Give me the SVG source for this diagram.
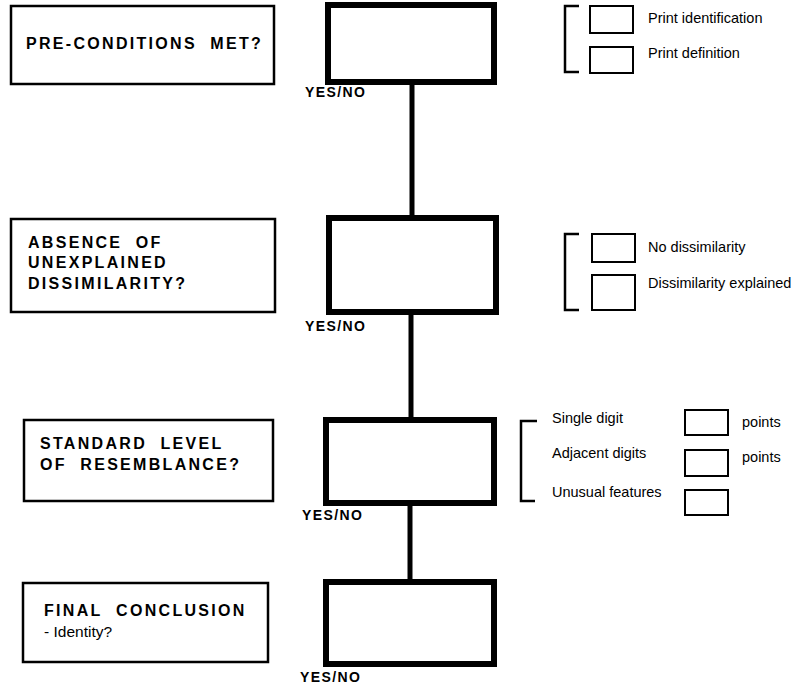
<svg xmlns="http://www.w3.org/2000/svg" width="798" height="685" viewBox="0 0 798 685">
<style>
.q{fill:#fff;stroke:#000;stroke-width:2.5}
.m{fill:#fff;stroke:#000;stroke-width:6}
.s{fill:#fff;stroke:#000;stroke-width:2}
.br{fill:none;stroke:#000;stroke-width:2.5}
.c{stroke:#000;stroke-width:5;fill:none}
.h{font-family:"Liberation Sans",Arial,sans-serif;font-weight:bold;font-size:16px;letter-spacing:2.3px;fill:#000}
.yn{font-family:"Liberation Sans",Arial,sans-serif;font-weight:bold;font-size:14px;letter-spacing:1.4px;fill:#000}
.t{font-family:"Liberation Sans",Arial,sans-serif;font-size:14.5px;fill:#000}
.r{font-family:"Liberation Sans",Arial,sans-serif;font-size:15.5px;fill:#000}
</style>
<rect width="798" height="685" fill="#fff"/>
<g id="connectors">
<line class="c" x1="412" y1="85" x2="412" y2="216"/>
<line class="c" x1="411" y1="315" x2="411" y2="418"/>
<line class="c" x1="410" y1="506" x2="410" y2="580"/>
</g>
<g id="q1">
<rect class="q" x="11" y="6" width="263" height="78"/>
<text class="h" x="26" y="49">PRE-CONDITIONS&#160; MET?</text>
</g>
<g id="a1">
<rect class="m" x="328" y="5" width="166" height="77"/>
<text class="yn" x="305" y="97">YES/NO</text>
</g>
<g id="o1">
<path class="br" d="M579,6 H565 V72 H579"/>
<rect class="s" x="590" y="6" width="43" height="27"/>
<rect class="s" x="590" y="47" width="43" height="26"/>
<text class="t" x="648" y="23">Print identification</text>
<text class="t" x="648" y="58">Print definition</text>
</g>
<g id="q2">
<rect class="q" x="11" y="219" width="264" height="93"/>
<text class="h" x="28" y="248">ABSENCE&#160; OF</text>
<text class="h" x="28" y="268">UNEXPLAINED</text>
<text class="h" x="28" y="289">DISSIMILARITY?</text>
</g>
<g id="a2">
<rect class="m" x="329" y="218" width="167" height="94"/>
<text class="yn" x="305" y="331">YES/NO</text>
</g>
<g id="o2">
<path class="br" d="M579,234 H565 V310 H579"/>
<rect class="s" x="592" y="234" width="43" height="28"/>
<rect class="s" x="592" y="275" width="43" height="35"/>
<text class="t" x="648" y="252">No dissimilarity</text>
<text class="t" x="648" y="288">Dissimilarity explained</text>
</g>
<g id="q3">
<rect class="q" x="24" y="420" width="249" height="81"/>
<text class="h" x="40" y="449">STANDARD&#160; LEVEL</text>
<text class="h" x="40" y="470">OF&#160; RESEMBLANCE?</text>
</g>
<g id="a3">
<rect class="m" x="326" y="420" width="168" height="83"/>
<text class="yn" x="302" y="520">YES/NO</text>
</g>
<g id="o3">
<path class="br" d="M537,421 H521 V501 H535"/>
<text class="t" x="552" y="423">Single digit</text>
<text class="t" x="552" y="458">Adjacent digits</text>
<text class="t" x="552" y="497">Unusual features</text>
<rect class="s" x="685" y="410" width="43" height="25"/>
<rect class="s" x="685" y="450" width="43" height="26"/>
<rect class="s" x="685" y="490" width="43" height="25"/>
<text class="t" x="742" y="427">points</text>
<text class="t" x="742" y="462">points</text>
</g>
<g id="q4">
<rect class="q" x="23" y="583" width="245" height="79"/>
<text class="h" x="44" y="616">FINAL&#160; CONCLUSION</text>
<text class="r" x="44" y="637">- Identity?</text>
</g>
<g id="a4">
<rect class="m" x="326" y="582" width="168" height="82"/>
<text class="yn" x="300" y="682">YES/NO</text>
</g>
</svg>
